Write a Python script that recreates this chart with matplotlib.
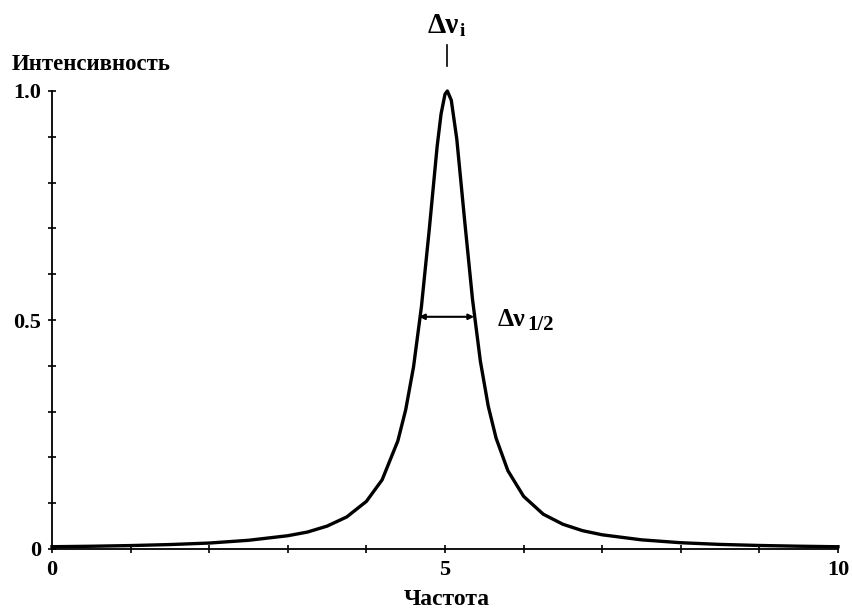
import matplotlib
matplotlib.use("Agg")
import matplotlib.pyplot as plt
from matplotlib.ticker import MultipleLocator, FixedLocator

# values
freq = [0, 0.5, 1, 1.5, 2, 2.5, 3, 3.25, 3.5, 3.75, 4, 4.2, 4.4, 4.5, 4.6,
        4.7, 4.8, 4.9, 4.95, 5.0, 5.03, 5.08, 5.15, 5.25, 5.35, 5.45, 5.55,
        5.65, 5.8, 6.0, 6.25, 6.5, 6.75, 7, 7.5, 8, 8.5, 9, 9.5, 10]
intensity = [0.005, 0.006, 0.0075, 0.0097, 0.013, 0.019, 0.029, 0.037, 0.050,
             0.070, 0.104, 0.151, 0.236, 0.304, 0.398, 0.529, 0.698, 0.879,
             0.950, 0.993, 1.0, 0.980, 0.895, 0.717, 0.545, 0.410, 0.312,
             0.242, 0.171, 0.115, 0.076, 0.054, 0.040, 0.031, 0.020, 0.0137,
             0.010, 0.0077, 0.0061, 0.0049]
x_labels = ["0", "5", "10"]
y_labels = ["0", "0.5", "1.0"]
peak_x = 5.03
half_left, half_right, half_y = 4.67, 5.37, 0.507

font = "Liberation Serif"
W, H = 852, 609

fig = plt.figure(figsize=(W / 100, H / 100), dpi=100)
ax = fig.add_axes([52 / W, 60 / H, 786 / W, 458 / H])

ax.plot(freq, intensity, color="black", lw=2.4, solid_joinstyle="round",
        clip_on=False)

ax.set_xlim(0, 10)
ax.set_ylim(0, 1)
for s in ["top", "right"]:
    ax.spines[s].set_visible(False)
for s in ["left", "bottom"]:
    ax.spines[s].set_linewidth(1.3)

ax.xaxis.set_major_locator(FixedLocator([0, 5, 10]))
ax.xaxis.set_minor_locator(MultipleLocator(1))
ax.yaxis.set_major_locator(FixedLocator([0, 0.5, 1.0]))
ax.yaxis.set_minor_locator(MultipleLocator(0.1))
ax.set_xticklabels(x_labels)
ax.set_yticklabels(y_labels)
ax.tick_params(which="both", direction="inout", length=6, width=1.2)
ax.tick_params(axis="x", which="major", pad=5)
ax.tick_params(axis="y", which="major", pad=5)
for lab in ax.get_xticklabels() + ax.get_yticklabels():
    lab.set_fontfamily(font)
    lab.set_fontweight("bold")
    lab.set_fontsize(16)


def fig_text(px, py, s, size, **kw):
    # place text by pixel position measured from the top-left corner
    return fig.text(px / W, 1 - py / H, s, family=font, weight="bold",
                    fontsize=size, **kw)


fig_text(12, 70, "Интенсивность", 16.5, ha="left", va="baseline")
fig_text(447, 605, "Частота", 17, ha="center", va="baseline")

# peak marker
ax.plot([peak_x, peak_x], [1.055, 1.10], color="black", lw=1.2, clip_on=False)
top = fig_text(428, 33, "Δν", 21, ha="left", va="baseline")
ax.annotate("i", xy=(1, 0), xycoords=top, xytext=(0.5, -0.5),
            textcoords="offset points", ha="left", va="bottom",
            family=font, weight="bold", fontsize=14)

# half width arrow
ax.annotate("", xy=(half_left, half_y), xytext=(half_right, half_y),
            arrowprops=dict(arrowstyle="<|-|>", color="black", lw=1.5,
                            mutation_scale=8, shrinkA=0, shrinkB=0))
half = fig_text(498, 326, "Δν", 18.5, ha="left", va="baseline")
ax.annotate("1/2", xy=(1, 0), xycoords=half, xytext=(1, -3),
            textcoords="offset points", ha="left", va="bottom",
            family=font, weight="bold", fontsize=15)

fig.savefig("out.png", dpi=100)
